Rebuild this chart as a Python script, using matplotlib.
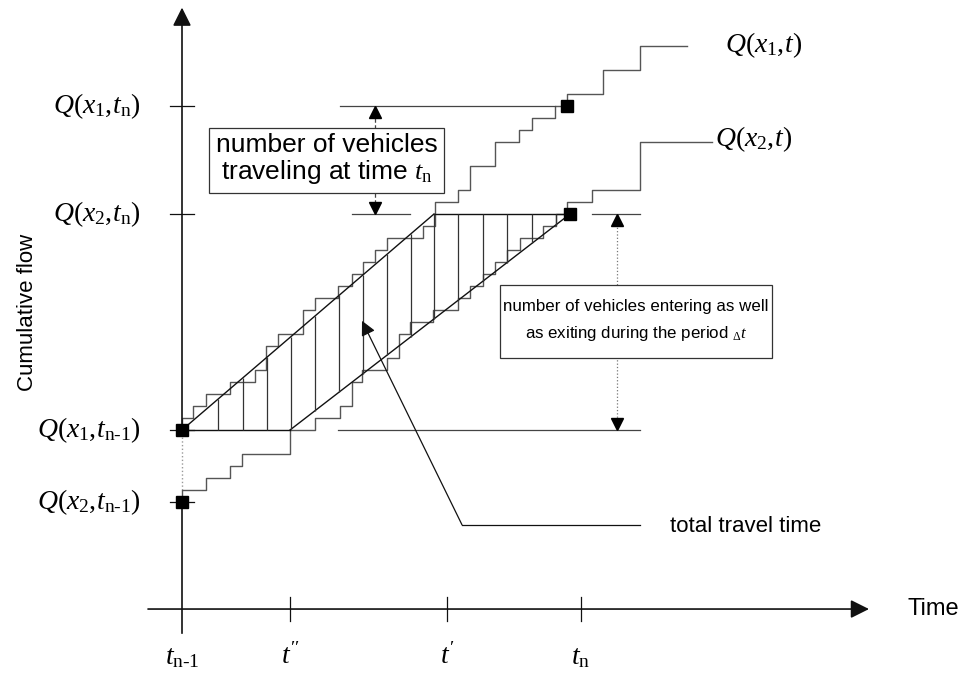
import numpy as np
import matplotlib
matplotlib.use('Agg')
import matplotlib.pyplot as plt
from matplotlib.patches import Rectangle

plt.rcParams['mathtext.fontset'] = 'custom'
plt.rcParams['mathtext.rm'] = 'Liberation Serif'
plt.rcParams['mathtext.it'] = 'Liberation Serif:italic'
plt.rcParams['mathtext.bf'] = 'Liberation Serif:bold'
plt.rcParams['font.family'] = ['Liberation Sans', 'DejaVu Sans']

# ---- data (time: t_{n-1} = 0 ; cumulative flow in vehicles) ----
q1_times = [0, 11, 24, 48, 73, 84, 96, 121, 133, 156, 170, 181, 193, 205, 241,
            253, 276, 288, 313, 337, 350, 373, 385, 421, 458]
q1_counts = [7, 8, 9, 10, 11, 13, 14, 16, 17, 18, 19, 20, 21, 22, 23,
             25, 26, 28, 30, 31, 32, 33, 34, 36, 38]
q1_start = 6
q1_end_time = 505

q2_times = [0, 24, 48, 60, 108, 133, 158, 170, 180, 205, 217, 228, 251, 276,
            288, 301, 313, 325, 338, 361, 374, 385, 410, 458]
q2_counts = [1, 2, 3, 4, 6, 7, 8, 10, 11, 12, 14, 15, 16, 17,
             18, 19, 20, 21, 22, 23, 24, 25, 26, 30]
q2_start = 0
q2_end_time = 530

# time axis marks
tick_times = [0, 108, 265, 399]
tick_labels = [r'$t_{\mathrm{n}\text{-}1}$', r"$t^{\prime\prime}$", r"$t^{\prime}$", r'$t_{\mathrm{n}}$']

# cumulative-flow marks
mark_times = [0, 0, 385, 388]
mark_counts = [6, 0, 33, 24]
mark_labels = [r'$Q(x_1,\!t_{\mathrm{n}\text{-}1})$', r'$Q(x_2,\!t_{\mathrm{n}\text{-}1})$',
               r'$Q(x_1,\!t_{\mathrm{n}})$', r'$Q(x_2,\!t_{\mathrm{n}})$']

# chords (upper: x1 curve, lower: x2 curve)
upper_chord_t = [0, 252]
upper_chord_n = [6, 24]
lower_chord_t = [108, 388]
lower_chord_n = [6, 24]

# hatching positions (individual travel times)
hatch_times = [36, 61, 85, 109, 133, 157, 181, 205, 229, 252, 276, 301, 325, 350, 374]

# ---- figure ----
fig = plt.figure(figsize=(9.68, 6.75), dpi=100)
ax = fig.add_axes([0, 0, 1, 1])
ax.set_xlim(-182, 786)
ax.set_ylim(-14.4167, 41.8333)
ax.axis('off')

axis_n = -8.92
lc = '#111111'

# axes with arrows
ax.annotate('', xy=(687, axis_n), xytext=(-34, axis_n),
            arrowprops=dict(arrowstyle='-|>', mutation_scale=28, color=lc, lw=1.2,
                            shrinkA=0, shrinkB=0))
ax.plot([0, 0], [-10.9, 0], color=lc, lw=1.2)
ax.plot([0, 0], [1, 6], color='#999999', lw=1.0, ls=':')
ax.annotate('', xy=(0, 41.2), xytext=(0, 6),
            arrowprops=dict(arrowstyle='-|>', mutation_scale=28, color=lc, lw=1.2,
                            shrinkA=0, shrinkB=0))
ax.text(725, axis_n, 'Time', fontsize=17, ha='left', va='center')
ax.text(-154, 15.8, 'Cumulative flow', fontsize=16, rotation=90, ha='center', va='center')

# x ticks
for t, lab in zip(tick_times, tick_labels):
    if t != 0:
        ax.plot([t, t], [axis_n + 1.0, axis_n - 1.0], color=lc, lw=0.9)
    ax.text(t, -12.9, lab, fontsize=20, ha='center', va='center')

# y ticks and labels
for n, lab in zip(mark_counts, mark_labels):
    ax.plot([-12, 12], [n, n], color=lc, lw=0.9)
    ax.text(-41, n, lab, fontsize=20, ha='right', va='center')

# staircases
x1 = [0] + q1_times + [q1_end_time]
y1 = [q1_start] + q1_counts + [q1_counts[-1]]
ax.step(x1, y1, where='post', color='#555555', lw=1.0)
x2 = [0] + q2_times + [q2_end_time]
y2 = [q2_start] + q2_counts + [q2_counts[-1]]
ax.step(x2, y2, where='post', color='#555555', lw=1.0)

# chords and boundaries
ax.plot(upper_chord_t, upper_chord_n, color=lc, lw=1.0)
ax.plot([upper_chord_t[-1], lower_chord_t[-1]], [24, 24], color=lc, lw=1.0)
ax.plot(lower_chord_t, lower_chord_n, color=lc, lw=1.0)
ax.plot([0, lower_chord_t[0]], [6, 6], color=lc, lw=1.0)

# hatching
ht = np.array(hatch_times, dtype=float)
low = np.maximum(6, np.interp(ht, lower_chord_t, lower_chord_n, left=6))
up = np.minimum(24, np.interp(ht, upper_chord_t, upper_chord_n, right=24))
ax.vlines(ht, low, up, color='#333333', lw=0.9)

# squares
ax.plot(mark_times, mark_counts, 's', color='black', markersize=9, zorder=5)

# reference lines for annotations
ref_c = '#444444'
ax.plot([158, 373], [33, 33], color=ref_c, lw=0.9)
ax.plot([170, 228], [24, 24], color=ref_c, lw=0.9)
ax.plot([410, 458], [24, 24], color=ref_c, lw=0.9)
ax.plot([156, 458], [6, 6], color=ref_c, lw=0.9)

# double arrow 1 (vehicles traveling at t_n)
a1 = 193
ax.plot([a1, a1], [33, 24], color=ref_c, lw=0.9, ls=(0, (3, 2)))
ax.plot([a1], [33 - 0.5], marker='^', color='black', markersize=9)
ax.plot([a1], [24 + 0.5], marker='v', color='black', markersize=9)
ax.text(144.5, 28.55, 'number of vehicles\ntraveling at time $t_{\\mathrm{n}}$', fontsize=19,
        ha='center', va='center', multialignment='center', linespacing=1.05, zorder=6,
        bbox=dict(boxstyle='square,pad=0.25', fc='white', ec='#333333', lw=0.9))

# double arrow 2 (entering and exiting)
a2 = 435
ax.plot([a2, a2], [24, 6], color='#777777', lw=0.9, ls=':')
ax.plot([a2], [24 - 0.5], marker='^', color='black', markersize=9)
ax.plot([a2], [6 + 0.5], marker='v', color='black', markersize=9)
box2 = Rectangle((318, 12.0), 272, 6.1, fc='white', ec='#333333', lw=0.9, zorder=6)
ax.add_patch(box2)
ax.text(454, 15.05, 'number of vehicles entering as well\nas exiting during the period $_{\\Delta}t$',
        fontsize=12.2, ha='center', va='center', multialignment='center',
        linespacing=1.7, zorder=7)

# total travel time pointer
ax.annotate('', xy=(180, 15.1), xytext=(280, -1.9),
            arrowprops=dict(arrowstyle='-|>', mutation_scale=22, color=lc, lw=0.9,
                            shrinkA=0, shrinkB=0))
ax.plot([280, 458], [-1.9, -1.9], color=lc, lw=0.9)
ax.text(488, -2.05, 'total travel time', fontsize=16, ha='left', va='center')

# curve labels
ax.text(543, 38.1, r'$Q(x_1,\!t)$', fontsize=20, ha='left', va='center')
ax.text(533, 30.2, r'$Q(x_2,\!t)$', fontsize=20, ha='left', va='center')

fig.savefig('out.png', dpi=100)
